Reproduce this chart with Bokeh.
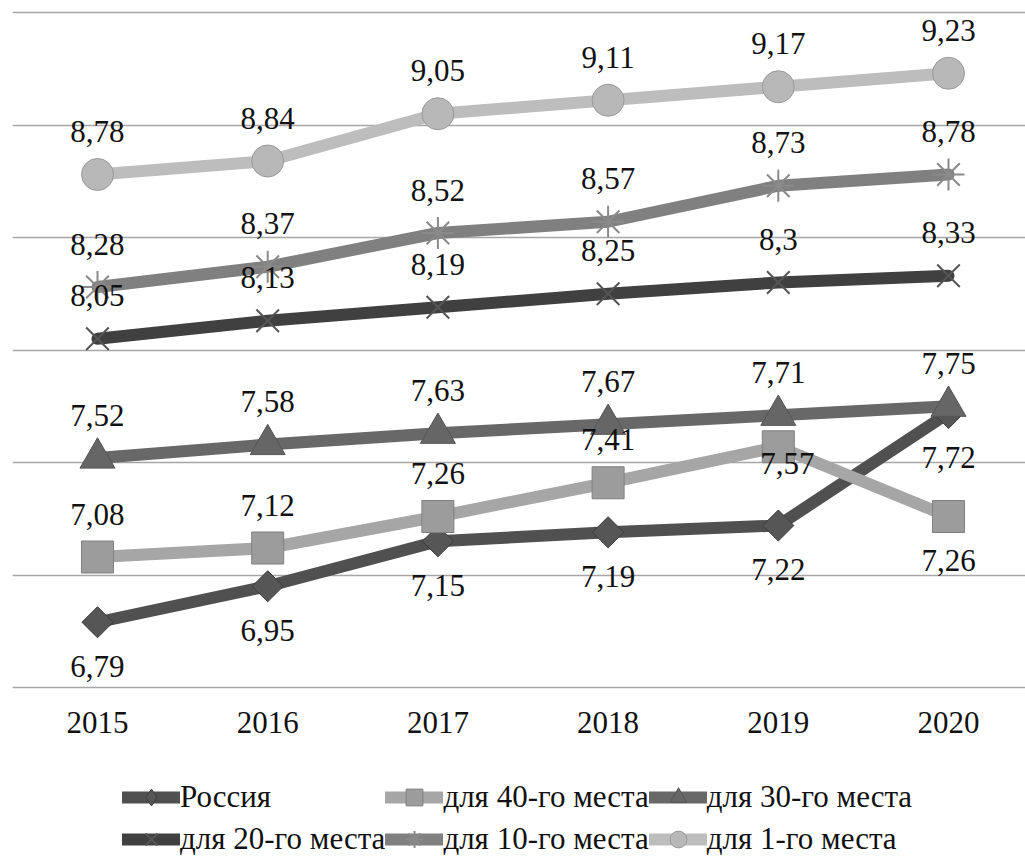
import numpy as np
from bokeh.plotting import figure
from bokeh.layouts import column
from bokeh.models import ColumnDataSource, FixedTicker, Grid, Legend, LegendItem, Range1d
from bokeh.core.properties import value
from bokeh.embed import file_html
from bokeh.resources import INLINE

# ---- data ----
years = [2015, 2016, 2017, 2018, 2019, 2020]
russia = [6.79, 6.95, 7.15, 7.19, 7.22, 7.72]
place40 = [7.08, 7.12, 7.26, 7.41, 7.57, 7.26]
place30 = [7.52, 7.58, 7.63, 7.67, 7.71, 7.75]
place20 = [8.05, 8.13, 8.19, 8.25, 8.30, 8.33]
place10 = [8.28, 8.37, 8.52, 8.57, 8.73, 8.78]
place1 = [8.78, 8.84, 9.05, 9.11, 9.17, 9.23]
series_names = ["Россия", "для 40-го места", "для 30-го места",
                "для 20-го места", "для 10-го места", "для 1-го места"]
y_ticks = [6.5, 7.0, 7.5, 8.0, 8.5, 9.0, 9.5]

series_values = [russia, place40, place30, place20, place10, place1]

# ---- styles ----
styles = [
    dict(line="#505050", marker="square", angle=np.pi / 4, size=22, fill="#565656", edge="#3c3c3c", lw=1,
         legend_marker="diamond"),
    dict(line="#a6a6a6", marker="square", angle=0.0, size=32, fill="#9c9c9c", edge="#808080", lw=1,
         legend_marker="square"),
    dict(line="#686868", marker="triangle", angle=0.0, size=35, fill="#666666", edge="#555555", lw=1,
         legend_marker="triangle"),
    dict(line="#404040", marker="x", angle=0.0, size=32, fill=None, edge="#555555", lw=2,
         legend_marker="x"),
    dict(line="#808080", marker="asterisk", angle=0.0, size=32, fill=None, edge="#8a8a8a", lw=2,
         legend_marker="asterisk"),
    dict(line="#bdbdbd", marker="circle", angle=0.0, size=32, fill="#b8b8b8", edge="#999999", lw=1,
         legend_marker="circle"),
]
# label offsets (screen px, positive = down)
above, below = -43, 44
label_offsets = [
    [below] * 6,
    [above, above, above, above, 17, below],
    [above] * 6,
    [above] * 6,
    [above] * 6,
    [above] * 6,
]
label_xoffsets = [
    [0] * 6,
    [0, 0, 0, 0, 9, 0],
    [0] * 6, [0] * 6, [0] * 6, [0] * 6,
]

FONT = "Liberation Serif"
PAD = 2.0 / 225.0

# ---- main chart ----
p = figure(width=1025, height=749,
           x_range=Range1d(2014.5006, 2020.4524), y_range=Range1d(6.5 - PAD, 9.5 + PAD),
           y_axis_location=None, output_backend="svg", toolbar_location=None,
           min_border_left=12, min_border_right=0, min_border_top=10, min_border_bottom=60)
p.outline_line_color = None
p.xgrid.visible = False
p.background_fill_color = "white"
p.border_fill_color = "white"

grid = Grid(dimension=1, ticker=FixedTicker(ticks=y_ticks),
            grid_line_color="#a6a6a6", grid_line_width=1.5)
p.add_layout(grid)

ax = p.xaxis[0]
ax.ticker = FixedTicker(ticks=years)
ax.axis_line_color = None
ax.major_tick_line_color = None
ax.minor_tick_line_color = None
ax.major_tick_out = 0
ax.major_tick_in = 0
ax.major_label_standoff = 22
ax.major_label_text_font = FONT
ax.major_label_text_font_size = "31px"
ax.major_label_text_color = "#111111"

for vals, st in zip(series_values, styles):
    p.line(years, vals, line_color=st["line"], line_width=12,
           line_join="round", line_cap="round")
    p.scatter(years, vals, marker=st["marker"], size=st["size"], angle=st["angle"],
              fill_color=st["fill"], line_color=st["edge"], line_width=st["lw"])

lx, ly, lt, lyo, lxo = [], [], [], [], []
for vals, offs, xoffs in zip(series_values, label_offsets, label_xoffsets):
    for yr, v, o, xo in zip(years, vals, offs, xoffs):
        lx.append(yr)
        ly.append(v)
        lt.append(f"{v:g}".replace(".", ","))
        lyo.append(o)
        lxo.append(xo)
lsrc = ColumnDataSource(dict(x=lx, y=ly, text=lt, yoff=lyo, xoff=lxo))
p.text(x="x", y="y", text="text", source=lsrc, x_offset="xoff", y_offset="yoff",
       text_font=value(FONT), text_font_size="31px", text_align="center",
       text_baseline="middle", text_color="#111111")

# ---- legend strip (keys drawn from off-screen proxy glyphs) ----
pl = figure(width=1025, height=111, x_range=Range1d(0, 1), y_range=Range1d(0, 1),
            x_axis_location=None, y_axis_location=None, output_backend="svg",
            toolbar_location=None, min_border=0)
pl.outline_line_color = None
pl.grid.visible = False

items = []
for name, st in zip(series_names, styles):
    ln = pl.line(x=[-5, -4], y=[-5, -5], line_color=st["line"], line_width=12,
                 line_join="round", line_cap="round")
    sc = pl.scatter(x=[-5], y=[-5], marker=st["legend_marker"], size=st["size"],
                    fill_color=st["fill"], line_color=st["edge"], line_width=st["lw"])
    items.append(LegendItem(label=name, renderers=[ln, sc]))

legend = Legend(items=items, location=(110, 0), orientation="horizontal", ncols=3,
                label_text_font=FONT, label_text_font_size="31px", label_text_color="#111111",
                glyph_width=58, glyph_height=42, label_height=42, label_standoff=0,
                spacing=0, padding=0, margin=0,
                border_line_alpha=0, background_fill_alpha=0)
pl.add_layout(legend)

layout = column(p, pl, spacing=0)
open("out.html", "w").write(file_html(layout, INLINE))
